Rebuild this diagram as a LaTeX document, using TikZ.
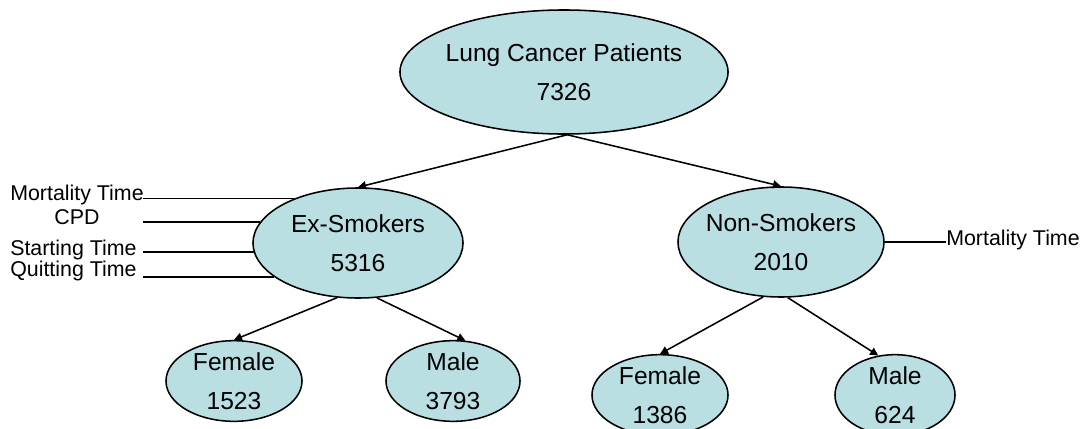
\documentclass[tikz,border=0pt]{standalone}
\usepackage{fontspec}
\setmainfont{Liberation Sans}
\usetikzlibrary{arrows.meta,shapes.geometric}
\definecolor{cellfill}{RGB}{185,223,227}

\begin{document}
\begin{tikzpicture}
            [x=0.025cm, y=-0.025cm,
            group/.style={ellipse, draw, line width=1.1pt, fill=cellfill, align=center, inner ysep=0pt, inner xsep=-4pt,
                font=\fontsize{17.5}{27.7}\selectfont},
            attr/.style={inner sep=0pt, font=\fontsize{15.2}{17}\selectfont},
            edge/.style={line width=1.1pt, black, -{Triangle[length=2mm, width=2mm]}},
            link/.style={line width=1.1pt, black}]

            \useasboundingbox (0,0) rectangle (1086,428);

            \node[group, minimum width=8.2cm, minimum height=3.1cm] (root) at (564,72) {Lung Cancer Patients\\7326};
            \node[group, minimum width=5.25cm, minimum height=2.75cm] (ex) at (358,243) {Ex-Smokers\\5316};
            \node[group, minimum width=5.15cm, minimum height=2.75cm] (non) at (781,242) {Non-Smokers\\2010};
            \node[group, minimum width=3.4cm, minimum height=1.95cm] (exf) at (234,381) {Female\\1523};
            \node[group, minimum width=3.35cm, minimum height=1.95cm] (exm) at (453,381) {Male\\3793};
            \node[group, minimum width=3.4cm, minimum height=1.95cm] (nonf) at (660,395) {Female\\1386};
            \node[group, minimum width=3.0cm, minimum height=1.95cm] (nonm) at (895,395) {Male\\624};

            % Attributes of the ex-smokers
            \node[attr, anchor=west] (exmt) at (10,195) {Mortality Time};
            \node[attr] (excpd) at (77,217) {CPD};
            \node[attr, anchor=west] (exst) at (10,250) {Starting Time};
            \node[attr, anchor=west] (exqt) at (10,271) {Quitting Time};
            \coordinate (lx) at (143,0);

            \draw[link] (ex.145) -- (ex.145 -| lx);
            \draw[link] (ex.168) -- (ex.168 -| lx);
            \draw[link] (ex.185.5) -- (ex.185.5 -| lx);
            \draw[link] (ex.202) -- (ex.202 -| lx);

            % Attribute of the non-smokers
            \node[attr, anchor=west] (nonmt) at (946,240) {Mortality Time};
            \draw[link] (non.east) -- (non.east -| nonmt.west);

            \draw[edge] (root.273) -- (ex.north);
            \draw[edge] (root.273) -- (non.north);
            \draw[edge] (ex.249) -- (exf.north);
            \draw[edge] (ex.289) -- (exm.73);
            \draw[edge] (non.252) -- (nonf.north);
            \draw[edge] (non.277) -- (nonm.113);

        \end{tikzpicture}
\end{document}
